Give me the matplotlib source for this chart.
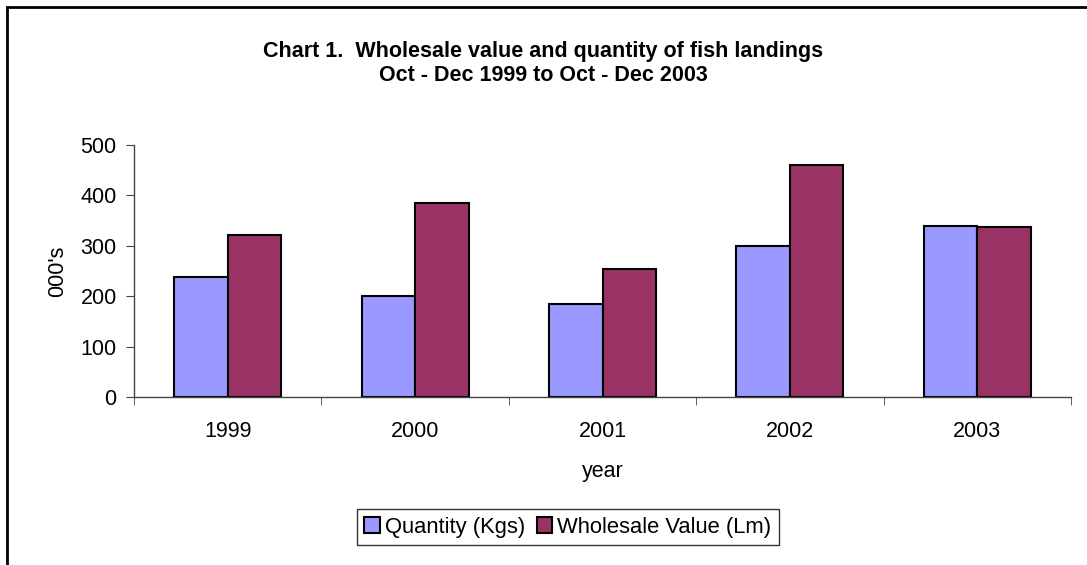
import numpy as np
import matplotlib.pyplot as plt
from matplotlib.patches import Rectangle

plt.rcParams['font.family'] = ['Liberation Sans', 'DejaVu Sans']

# данные с графика
years = ['1999', '2000', '2001', '2002', '2003']
quantity = [239, 201, 185, 299, 340]
value = [322, 384, 254, 461, 337]

fig = plt.figure(figsize=(10.87, 5.65), dpi=100)
ax = fig.add_axes([134 / 1087, 1 - 397 / 565, (1071 - 134) / 1087, (397 - 145) / 565])

x = np.arange(len(years))
w = 0.286
b1 = ax.bar(x - w / 2, quantity, w, color='#9999FF', edgecolor='black', linewidth=1.5,
            label='Quantity (Kgs)')
b2 = ax.bar(x + w / 2, value, w, color='#993366', edgecolor='black', linewidth=1.5,
            label='Wholesale Value (Lm)')

ax.set_xlim(-0.5, len(years) - 0.5)
ax.set_ylim(0, 500)
ax.set_yticks(range(0, 501, 100))
ax.set_xticks(x)
ax.set_xticklabels(years, fontsize=15.5)
ax.set_xticks(np.arange(-0.5, len(years)), minor=True)
ax.tick_params(axis='x', which='major', length=0, pad=17)
ax.tick_params(axis='x', which='minor', length=6, direction='out', color='#444444')
ax.tick_params(axis='y', length=5.5, direction='out', labelsize=15.5, color='#444444', pad=7)
for s in ['top', 'right']:
    ax.spines[s].set_visible(False)
for s in ['left', 'bottom']:
    ax.spines[s].set_color('#444444')
    ax.spines[s].set_linewidth(1)

ax.set_xlabel('year', fontsize=15.5, labelpad=14)
ax.set_ylabel("000's", fontsize=15.5, labelpad=9)

fig.text(0.5, 1 - 51 / 565, 'Chart 1.  Wholesale value and quantity of fish landings',
         ha='center', va='center', fontsize=15.5, fontweight='bold')
fig.text(0.5, 1 - 76 / 565, 'Oct - Dec 1999 to Oct - Dec 2003',
         ha='center', va='center', fontsize=15.5, fontweight='bold')

leg = fig.legend(handles=[b1, b2], loc='center', bbox_to_anchor=(568 / 1087, 1 - 527 / 565),
                 ncol=2, fontsize=15.8, frameon=True, fancybox=False, edgecolor='black',
                 handlelength=0.7, handleheight=0.7, handletextpad=0.25, columnspacing=0.5,
                 borderpad=0.35, borderaxespad=0)
leg.get_frame().set_linewidth(1)

# рамка вокруг диаграммы (уходит за край справа и снизу)
fig.patches.append(Rectangle((7 / 1087, -0.1), 1.2, 1 - 7 / 565 + 0.1, transform=fig.transFigure,
                             fill=False, edgecolor='black', linewidth=2))

fig.savefig('out.png', dpi=100)
